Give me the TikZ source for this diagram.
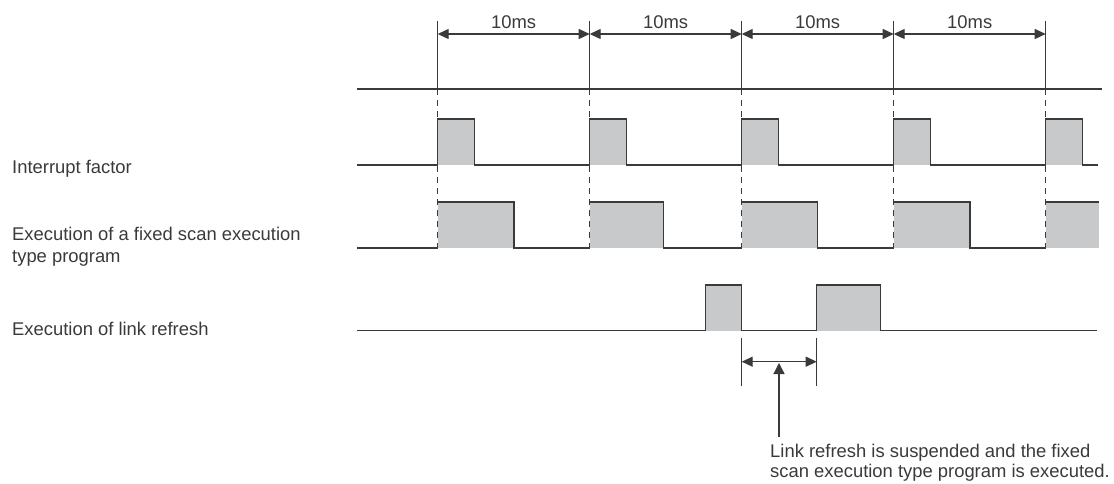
\documentclass[tikz,border=0pt]{standalone}
\usepackage{fontspec}
\setmainfont{Liberation Sans}
\usetikzlibrary{arrows.meta}
\definecolor{lc}{RGB}{58,58,58}
\definecolor{pulsefill}{RGB}{200,201,203}
\begin{document}
\begin{tikzpicture}[x=1pt,y=-1pt,
  wave/.style={draw=lc,line width=1.3pt,line join=miter},
  guide/.style={draw=lc,line width=1.3pt},
  dashguide/.style={draw=lc,line width=1.3pt,dash pattern=on 6pt off 5pt},
  dimarrow/.style={draw=lc,line width=1.3pt,{Triangle[length=11pt,width=10pt]}-{Triangle[length=11pt,width=10pt]}},
  uparrow/.style={draw=lc,line width=1.3pt,-{Triangle[length=11pt,width=11pt]}},
  pulse/.style={fill=pulsefill,draw=none},
  lbl/.style={inner sep=0pt,text=lc,font=\fontsize{18.4}{22}\selectfont},
]
\useasboundingbox (0,0) rectangle (1114,484);

% period marks
\coordinate (t1) at (437.7,0);
\coordinate (t2) at (589.7,0);
\coordinate (t3) at (741.7,0);
\coordinate (t4) at (893.7,0);
\coordinate (t5) at (1045.7,0);

% fills
\foreach \x in {437.7,589.7,741.7,893.7,1045.7}{
  \fill[pulse] (\x,119) rectangle ++(37,46);
}
\fill[pulse] (437.7,202) rectangle (514,248);
\fill[pulse] (589.7,202) rectangle (663.7,248);
\fill[pulse] (741.7,202) rectangle (817.3,248);
\fill[pulse] (893.7,202) rectangle (970,248);
\fill[pulse] (1045.7,202) rectangle (1099,248);
\fill[pulse] (705.7,285) rectangle (741.7,330.7);
\fill[pulse] (816.7,285) rectangle (880.3,330.7);

% top scale
\foreach \x in {437.7,589.7,741.7,893.7,1045.7}{
  \draw[guide] (\x,21) -- (\x,89);
  \draw[dashguide] (\x,89) -- (\x,248);
}
\draw[guide] (357,89) -- (1102,89);

\foreach \a/\b/\n in {437.7/589.7/1,589.7/741.7/2,741.7/893.7/3,893.7/1045.7/4}{
  \coordinate (dl\n) at (\a,34);
  \coordinate (dr\n) at (\b,34);
  \draw[dimarrow] (dl\n) -- (dr\n);
  \node[lbl,anchor=base] (ms\n) at ({(\a+\b)/2},28.3) {10ms};
}

% interrupt factor
\draw[wave] (357,165) -- (437.7,165) -- (437.7,119) -- (474.7,119) -- (474.7,165)
  -- (589.7,165) -- (589.7,119) -- (626.7,119) -- (626.7,165)
  -- (741.7,165) -- (741.7,119) -- (778.7,119) -- (778.7,165)
  -- (893.7,165) -- (893.7,119) -- (930.7,119) -- (930.7,165)
  -- (1045.7,165) -- (1045.7,119) -- (1082.7,119) -- (1082.7,165) -- (1098,165);

% fixed scan program
\draw[wave] (357,248) -- (437.7,248);
\draw[wave] (437.7,202) -- (514,202) -- (514,248) -- (589.7,248);
\draw[wave] (589.7,202) -- (663.7,202) -- (663.7,248) -- (741.7,248);
\draw[wave] (741.7,202) -- (817.3,202) -- (817.3,248) -- (893.7,248);
\draw[wave] (893.7,202) -- (970,202) -- (970,248) -- (1045.7,248);
\draw[wave] (1045.7,202) -- (1099,202);

% link refresh
\draw[wave] (357,330.7) -- (705.7,330.7) -- (705.7,285) -- (741.7,285) -- (741.7,330.7)
  -- (816.7,330.7) -- (816.7,285) -- (880.3,285) -- (880.3,330.7) -- (1097,330.7);

% suspension interval
\coordinate (sa) at (741.7,361.7);
\coordinate (sb) at (816.7,361.7);
\draw[guide] (741.7,337.7) -- (741.7,386);
\draw[guide] (816.7,337.7) -- (816.7,386);
\draw[dimarrow] (sa) -- (sb);
\coordinate (pt) at (779,363);
\coordinate (pb) at (779,436.7);
\draw[uparrow] (pb) -- (pt);

% labels
\node[lbl,anchor=base west] (lint) at (12,173.3) {Interrupt factor};
\node[lbl,anchor=north west,align=left] (lexe) at (12,227.3) {Execution of a fixed scan execution\\type program};
\node[lbl,anchor=base west] (llnk) at (12,335.3) {Execution of link refresh};
\node[lbl,anchor=north west,align=left,font=\fontsize{18.4}{20}\selectfont] (note) at (770,443.9) {Link refresh is suspended and the fixed\\scan execution type program is executed.};
\end{tikzpicture}
\end{document}
